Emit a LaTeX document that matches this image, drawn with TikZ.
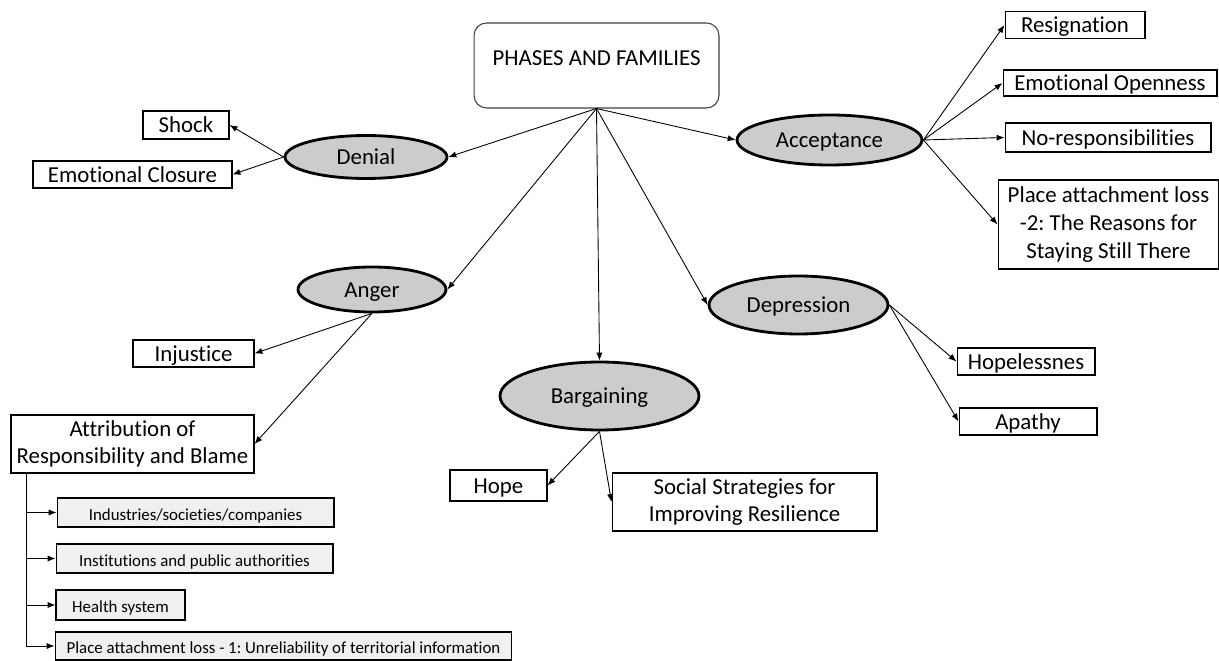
\documentclass[tikz,border=0pt]{standalone}
\usepackage{fontspec}
\setmainfont{Carlito}[Ligatures=NoCommon]
\usepackage{tikz}
\usetikzlibrary{shapes.geometric,arrows.meta,positioning}
\frenchspacing

\begin{document}
\begin{tikzpicture}[x=0.02cm, y=-0.02cm,
        font=\fontsize{13}{15.5}\selectfont,
        phase/.style={ellipse, draw, line width=1.6pt, fill=gray!40, inner sep=0pt, text height=1.05em, text depth=0.15em},
        family/.style={rectangle, draw, line width=0.6pt, fill=white, inner sep=1pt, align=center},
        oneline/.style={family, text height=1.05em, text depth=0.15em},
        subfamily/.style={oneline, fill=gray!12, font=\fontsize{9.6}{11}\selectfont},
        arr/.style={-{Latex[length=4.5pt,width=3.5pt]}, line width=0.5pt}]
        \fill[white] (0,0) rectangle (1219,661);
        \useasboundingbox (0,0) rectangle (1219,661);

        \node[draw=black!75, line width=0.6pt, rounded corners=0.25cm, minimum width=4.9cm, minimum height=1.7cm, inner sep=0pt, text height=0.3cm, text depth=0.3cm] (phases) at (596.5,65.5) {PHASES AND FAMILIES};

        \node[phase, minimum width=3.24cm, minimum height=0.86cm] (denial) at (366,157) {Denial};
        \node[phase, minimum width=3.7cm, minimum height=1.0cm] (acceptance) at (829.5,140) {Acceptance};
        \node[phase, minimum width=2.96cm, minimum height=0.9cm] (anger) at (372,289.5) {Anger};
        \node[phase, minimum width=3.58cm, minimum height=1.16cm] (depression) at (798.5,305) {Depression};
        \node[phase, minimum width=3.98cm, minimum height=1.36cm] (bargaining) at (599.5,396) {Bargaining};

        \node[oneline, minimum width=1.72cm, minimum height=0.56cm] (shock) at (186,125) {Shock};
        \node[oneline, minimum width=3.98cm, minimum height=0.54cm] (closure) at (132.5,174.5) {Emotional Closure};

        \node[oneline, minimum width=2.8cm, minimum height=0.54cm] (resignation) at (1075,25) {Resignation};
        \node[oneline, minimum width=4.28cm, minimum height=0.52cm] (openness) at (1110,83) {Emotional Openness};
        \node[oneline, minimum width=4.12cm, minimum height=0.58cm] (noresp) at (1108,137.5) {No-responsibilities};
        \node[family, minimum width=4.42cm, minimum height=1.78cm, font=\fontsize{13}{16}\selectfont] (placetwo) at (1108.5,224.5) {Place attachment loss\\-2: The Reasons for\\Staying Still There};

        \node[oneline, minimum width=2.42cm, minimum height=0.54cm] (injustice) at (193.5,353.5) {Injustice};
        \node[family, minimum width=4.86cm, minimum height=1.16cm] (attribution) at (132.5,444) {Attribution of\\Responsibility and Blame};

        \node[subfamily, minimum width=5.54cm, minimum height=0.58cm] (industries) at (195.5,512.5) {Industries/societies/companies};
        \node[subfamily, minimum width=5.54cm, minimum height=0.58cm] (institutions) at (194.5,558.5) {Institutions and public authorities};
        \node[subfamily, minimum width=2.58cm, minimum height=0.6cm] (health) at (120.5,605) {Health system};
        \node[subfamily, minimum width=9.14cm, minimum height=0.56cm] (placeone) at (283.5,646) {Place attachment loss - 1: Unreliability of territorial information};

        \node[oneline, minimum width=1.94cm, minimum height=0.62cm] (hope) at (498.5,485.5) {Hope};
        \node[family, minimum width=5.3cm, minimum height=1.16cm] (social) at (744.5,502) {Social Strategies for\\Improving Resilience};

        \node[oneline, minimum width=2.76cm, minimum height=0.54cm] (hopeless) at (1026,361.5) {Hopelessnes};
        \node[oneline, minimum width=2.76cm, minimum height=0.54cm] (apathy) at (1028,421.5) {Apathy};

        \coordinate (trunk) at (26,473);

        \draw[arr] (phases.south) -- (denial.east);
        \draw[arr] (phases.south) -- (acceptance.west);
        \draw[arr] (phases.south) -- (anger.east);
        \draw[arr] (phases.south) -- (depression.west);
        \draw[arr] (phases.south) -- (bargaining.north);

        \draw[arr] (denial.west) -- (shock.east);
        \draw[arr] (denial.west) -- (closure.east);

        \draw[arr] (acceptance.east) -- (resignation.west);
        \draw[arr] (acceptance.east) -- (openness.west);
        \draw[arr] (acceptance.east) -- (noresp.west);
        \draw[arr] (acceptance.east) -- (placetwo.west);

        \draw[arr] (anger.south) -- (injustice.east);
        \draw[arr] (anger.south) -- (attribution.east);

        \draw[arr] (trunk) |- (placeone.west);
        \draw[arr] (trunk |- industries.west) -- (industries.west);
        \draw[arr] (trunk |- institutions.west) -- (institutions.west);
        \draw[arr] (trunk |- health.west) -- (health.west);

        \draw[arr] (bargaining.south) -- (hope.east);
        \draw[arr] (bargaining.south) -- (social.west);

        \draw[arr] (depression.east) -- (hopeless.west);
        \draw[arr] (depression.east) -- (apathy.west);
    \end{tikzpicture}
\end{document}
